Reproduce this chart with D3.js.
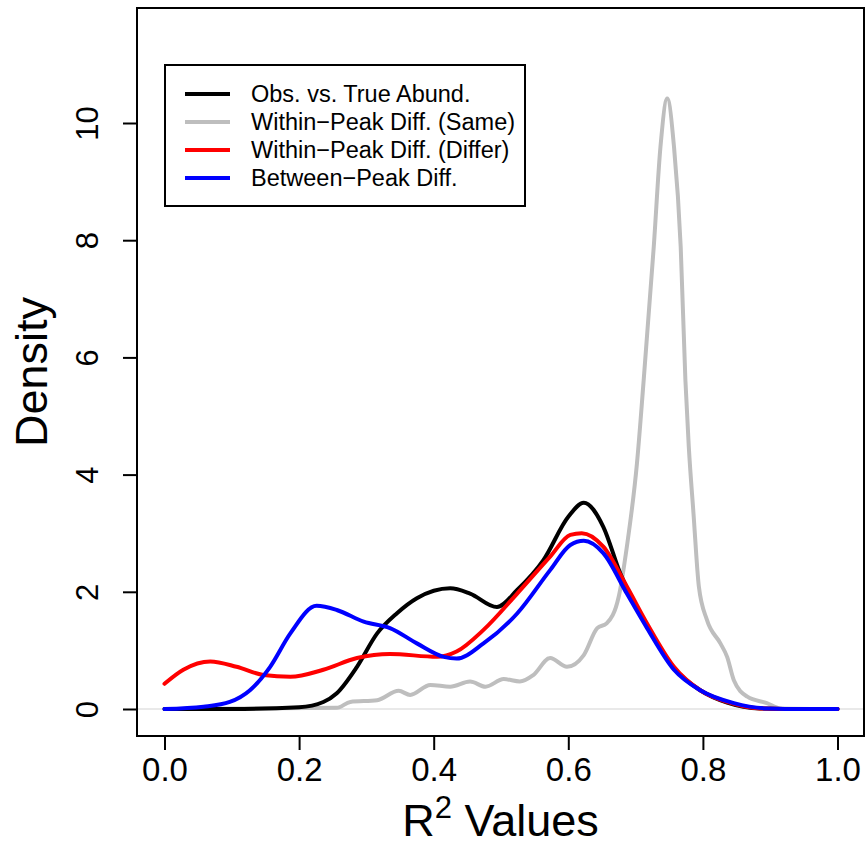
<!DOCTYPE html>
<html>
<head>
<meta charset="utf-8">
<script src="https://cdn.jsdelivr.net/npm/d3@7"></script>
<style>
  body { margin: 0; background: #fff; }
  svg text { font-family: "Liberation Sans", Arial, sans-serif; fill: #000; }
</style>
</head>
<body>
<div id="chart"></div>
<script>
// values (R^2 value, density)
const obsX   = [0.0, 0.1, 0.2, 0.236, 0.256, 0.286, 0.316, 0.345, 0.375, 0.4245, 0.454, 0.494, 0.524, 0.563, 0.6, 0.623, 0.652, 0.677, 0.717, 0.757, 0.796, 0.836, 0.885, 0.95, 1.0]
const obsY   = [0.0, 0.0, 0.03, 0.12, 0.27, 0.72, 1.29, 1.63, 1.89, 2.06, 1.97, 1.74, 2.03, 2.54, 3.28, 3.52, 3.11, 2.32, 1.42, 0.7, 0.32, 0.11, 0.01, 0.0, 0.0]

const sameX  = [0.0, 0.127, 0.256, 0.276, 0.316, 0.348, 0.365, 0.395, 0.4245, 0.454, 0.477, 0.504, 0.528, 0.548, 0.573, 0.598, 0.623, 0.643, 0.657, 0.675, 0.687, 0.702, 0.712, 0.727, 0.737, 0.747, 0.757, 0.767, 0.774, 0.779, 0.786, 0.794, 0.806, 0.826, 0.836, 0.846, 0.866, 0.895, 0.915, 1.0]
const sameY  = [0.0, 0.01, 0.02, 0.12, 0.15, 0.31, 0.24, 0.41, 0.38, 0.47, 0.38, 0.51, 0.47, 0.58, 0.87, 0.72, 0.92, 1.38, 1.46, 1.92, 2.77, 4.19, 5.61, 7.89, 9.6, 10.42, 9.6, 7.89, 5.61, 4.48, 3.34, 2.09, 1.52, 1.12, 0.89, 0.49, 0.21, 0.1, 0.01, 0.0]

const differX = [0.0, 0.028, 0.068, 0.107, 0.147, 0.187, 0.236, 0.286, 0.335, 0.405, 0.434, 0.474, 0.524, 0.573, 0.603, 0.62, 0.652, 0.687, 0.717, 0.757, 0.796, 0.836, 0.885, 0.95, 1.0]
const differY = [0.43, 0.67, 0.81, 0.72, 0.58, 0.55, 0.67, 0.87, 0.94, 0.89, 0.98, 1.35, 1.97, 2.6, 2.97, 3.0, 2.77, 2.09, 1.46, 0.72, 0.32, 0.12, 0.01, 0.0, 0.0]

const betweenX = [0.0, 0.058, 0.097, 0.127, 0.157, 0.187, 0.226, 0.256, 0.296, 0.335, 0.375, 0.415, 0.434, 0.474, 0.524, 0.573, 0.603, 0.623, 0.652, 0.687, 0.717, 0.757, 0.796, 0.846, 0.895, 0.95, 1.0]
const betweenY = [0.0, 0.04, 0.12, 0.32, 0.72, 1.29, 1.76, 1.69, 1.49, 1.38, 1.12, 0.89, 0.86, 1.12, 1.63, 2.37, 2.8, 2.87, 2.66, 1.97, 1.38, 0.67, 0.32, 0.1, 0.01, 0.0, 0.0]

const seriesNames  = ["Obs. vs. True Abund.", "Within\u2212Peak Diff. (Same)", "Within\u2212Peak Diff. (Differ)", "Between\u2212Peak Diff."]
const seriesColors = ["#000000", "#bebebe", "#ff0000", "#0000ff"]
const xTicks = [0, 0.2, 0.4, 0.6, 0.8, 1.0]
const yTicks = [0, 2, 4, 6, 8, 10]

const series = [
    { name: seriesNames[0], color: seriesColors[0], xs: obsX, ys: obsY },
    { name: seriesNames[1], color: seriesColors[1], xs: sameX, ys: sameY },
    { name: seriesNames[2], color: seriesColors[2], xs: differX, ys: differY },
    { name: seriesNames[3], color: seriesColors[3], xs: betweenX, ys: betweenY },
]

const width = 866, height = 845
// plot box (R's box())
const box = { left: 137, right: 864, top: 8, bottom: 736 }

const svg = d3.select("#chart").append("svg")
    .attr("width", width)
    .attr("height", height)

const x = d3.scaleLinear().domain([0, 1]).range([164.5, 837.5])
const y = d3.scaleLinear().domain([0, 10]).range([709, 123])

// zero reference line
svg.append("line")
    .attr("x1", box.left).attr("x2", box.right)
    .attr("y1", y(0)).attr("y2", y(0))
    .attr("stroke", "#d3d3d3").attr("stroke-width", 1.2)

// density curves, gray first so the others sit on top
const line = d3.line()
    .x(d => x(d[0]))
    .y(d => y(d[1]))
    .curve(d3.curveMonotoneX)

const drawOrder = [1, 0, 2, 3]
for (const i of drawOrder) {
    const s = series[i]
    const pts = s.xs.map((v, k) => [v, s.ys[k]])
    svg.append("path")
        .datum(pts)
        .attr("d", line)
        .attr("fill", "none")
        .attr("stroke", s.color)
        .attr("stroke-width", 4)
        .attr("stroke-linejoin", "round")
        .attr("stroke-linecap", "round")
}

// box
svg.append("rect")
    .attr("x", box.left).attr("y", box.top)
    .attr("width", box.right - box.left)
    .attr("height", box.bottom - box.top)
    .attr("fill", "none").attr("stroke", "#000").attr("stroke-width", 2)

// x axis
const xAxis = svg.append("g")
    .attr("transform", `translate(0,${box.bottom})`)
    .call(d3.axisBottom(x).tickValues(xTicks).tickFormat(d3.format(".1f")).tickSize(14).tickPadding(8))
xAxis.select(".domain").remove()
xAxis.selectAll(".tick line").attr("stroke-width", 2)
xAxis.selectAll(".tick text")
    .attr("font-size", 33)
    .attr("font-family", "Liberation Sans, Arial, sans-serif")

// y axis, labels parallel to the axis as in R
const yAxis = svg.append("g")
    .attr("transform", `translate(${box.left},0)`)
    .call(d3.axisLeft(y).tickValues(yTicks).tickSize(14))
yAxis.select(".domain").remove()
yAxis.selectAll(".tick line").attr("stroke-width", 2)
yAxis.selectAll(".tick text")
    .attr("font-size", 31)
    .attr("font-family", "Liberation Sans, Arial, sans-serif")
    .attr("x", null).attr("dy", null)
    .attr("text-anchor", "middle")
    .attr("transform", "translate(-39,0) rotate(-90)")

// axis titles
const xTitle = svg.append("text")
    .attr("x", (box.left + box.right) / 2)
    .attr("y", 836)
    .attr("text-anchor", "middle")
    .attr("font-size", 45)
xTitle.append("tspan").text("R")
xTitle.append("tspan").text("2").attr("font-size", 31).attr("dy", -18)
xTitle.append("tspan").text(" Values").attr("dy", 18)

svg.append("text")
    .attr("transform", `translate(47,${(box.top + box.bottom) / 2}) rotate(-90)`)
    .attr("text-anchor", "middle")
    .attr("font-size", 45)
    .text("Density")

// legend
svg.append("rect")
    .attr("x", 165).attr("y", 65)
    .attr("width", 360).attr("height", 141)
    .attr("fill", "#fff").attr("stroke", "#000").attr("stroke-width", 2)
const legend = svg.append("g")
series.forEach((s, i) => {
    const ly = 94 + i * 28
    legend.append("line")
        .attr("x1", 185).attr("x2", 230)
        .attr("y1", ly).attr("y2", ly)
        .attr("stroke", s.color).attr("stroke-width", 4)
    legend.append("text")
        .attr("x", 251).attr("y", ly)
        .attr("dy", "0.36em")
        .attr("font-size", 23.5)
        .text(s.name)
})
</script>
</body>
</html>
